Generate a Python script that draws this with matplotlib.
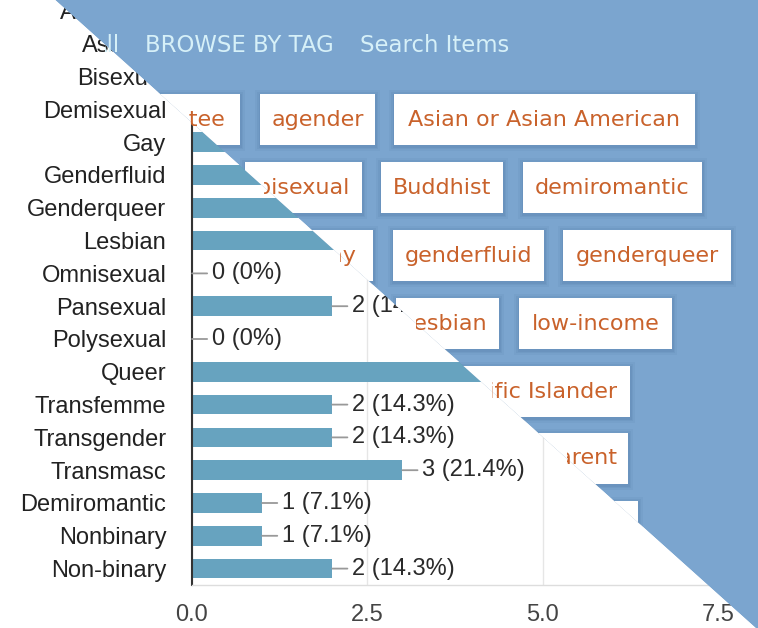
import numpy as np
import matplotlib.pyplot as plt
from matplotlib.patches import Polygon, Rectangle
from matplotlib.transforms import Bbox

# bar chart data
categories = ['Aromantic', 'Asexual', 'Bisexual', 'Demisexual', 'Gay', 'Genderfluid',
              'Genderqueer', 'Lesbian', 'Omnisexual', 'Pansexual', 'Polysexual', 'Queer',
              'Transfemme', 'Transgender', 'Transmasc', 'Demiromantic', 'Nonbinary', 'Non-binary']
counts = [2, 3, 4, 2, 3, 2, 4, 3, 0, 2, 0, 6, 2, 2, 3, 1, 1, 2]
total = 14
xticks = [0.0, 2.5, 5.0, 7.5]

# text of the web page drawn over the top right
nav_items = ['All', 'BROWSE BY TAG', 'Search Items']
tags = ['Adoptee', 'agender', 'Asian or Asian American',
        'bisexual', 'Buddhist', 'demiromantic',
        'gay', 'genderfluid', 'genderqueer',
        'lesbian', 'low-income',
        'Pacific Islander',
        'parent',
        '']

W, H = 758, 628
# tag box layout in pixels: (left, right, top)
tag_boxes = [(118, 240, 94), (260, 375, 94), (394, 695, 94),
             (245, 362, 162), (381, 503, 162), (523, 702, 162),
             (300, 373, 230), (393, 544, 230), (563, 731, 230),
             (396, 499, 298), (519, 672, 298),
             (438, 630, 366),
             (533, 628, 433),
             (500, 638, 501)]
box_h = 51
nav_pos = [(120, 'right'), (145, 'left'), (360, 'left')]
nav_y = 45
# diagonal edge of the overlay, from (55, 0) to (756, 628) in pixels
d0, d1 = 55, 756


def diag_x(yp):
    return d0 + (d1 - d0) * yp / H


def label(v):
    if v == 0:
        return '0 (0%)'
    return '%d (%.1f%%)' % (v, 100.0 * v / total)


fig = plt.figure(figsize=(W / 100, H / 100), dpi=100)
fig.patch.set_facecolor('white')

px_unit = 70.13
ax = fig.add_axes([192 / W, 1 - 585 / H, 1 - 192 / W, 18 * 32.8 / H])
y = np.arange(len(categories))
ax.barh(y, counts, height=0.6, color='#67a3bf', zorder=2)
for i, v in enumerate(counts):
    ax.annotate(label(v), xy=(v, i), xytext=(14.4, 0), textcoords='offset points',
                va='center', ha='left', fontsize=17, color='#2a2a2a',
                family='Liberation Sans',
                arrowprops=dict(arrowstyle='-', color='#999999', lw=1.3,
                                shrinkA=1.5, shrinkB=0, relpos=(0, 0.5)))
ax.set_ylim(len(categories) - 0.5, -0.5)
ax.set_xlim(0, (W - 192) / px_unit)
ax.set_xticks(xticks)
ax.set_xticklabels(['%.1f' % t for t in xticks])
ax.set_yticks(y)
ax.set_yticklabels(categories)
for t in ax.get_xticklabels() + ax.get_yticklabels():
    t.set_family('Liberation Sans')
ax.tick_params(axis='y', length=0, pad=18.5, labelsize=17, labelcolor='#222222')
ax.tick_params(axis='x', length=0, pad=13.5, labelsize=17, labelcolor='#444444')
ax.grid(axis='x', color='#e6e6e6', lw=1)
ax.set_axisbelow(True)
for s in ['top', 'right']:
    ax.spines[s].set_visible(False)
ax.spines['left'].set_color('#333333')
ax.spines['left'].set_linewidth(1.5)
ax.spines['bottom'].set_color('#dddddd')
ax.spines['bottom'].set_linewidth(1)

# diagonal web page overlay
ov = fig.add_axes([0, 0, 1, 1], zorder=10)
ov.set_xlim(0, W)
ov.set_ylim(H, 0)
ov.axis('off')
ov.patch.set_visible(False)
corner = [(diag_x(-10), -10), (900, -10), (900, 700), (diag_x(700), 700)]
clip = Polygon(corner, closed=True, transform=ov.transData)

bg = ov.add_patch(Polygon(corner, closed=True, facecolor='#7ba5cf', edgecolor='none'))
bg.set_clip_path(clip)

for (l, r, t) in tag_boxes:
    for k, a in [(5, 0.05), (3, 0.07), (1.5, 0.08)]:
        sh = ov.add_patch(Rectangle((l - k, t - k + 1), r - l + 2 * k, box_h + 2 * k,
                                    facecolor='#2a4d78', alpha=a, edgecolor='none'))
        sh.set_clip_path(clip)
    b = ov.add_patch(Rectangle((l, t), r - l, box_h, facecolor='white', edgecolor='none'))
    b.set_clip_path(clip)


def cut_text(tx, yp):
    # text can only be clipped by a rectangle: cut where the diagonal crosses its middle
    xd = diag_x(yp)
    tx.set_clip_box(Bbox.from_extents(xd, -100, 2000, 2000))
    tx.set_clip_on(True)


for name, (l, r, t) in zip(tags, tag_boxes):
    if name:
        yc = t + box_h / 2
        tx = ov.text((l + r) / 2, yc, name, ha='center', va='center',
                     fontsize=16, color='#c9622b', family='DejaVu Sans')
        cut_text(tx, yc)

for name, (x, ha) in zip(nav_items, nav_pos):
    tx = ov.text(x, nav_y, name, ha=ha, va='center', fontsize=16.4,
                 color='#d6f0f8', family='DejaVu Sans')
    cut_text(tx, nav_y)

fig.savefig('out.png', dpi=100)
